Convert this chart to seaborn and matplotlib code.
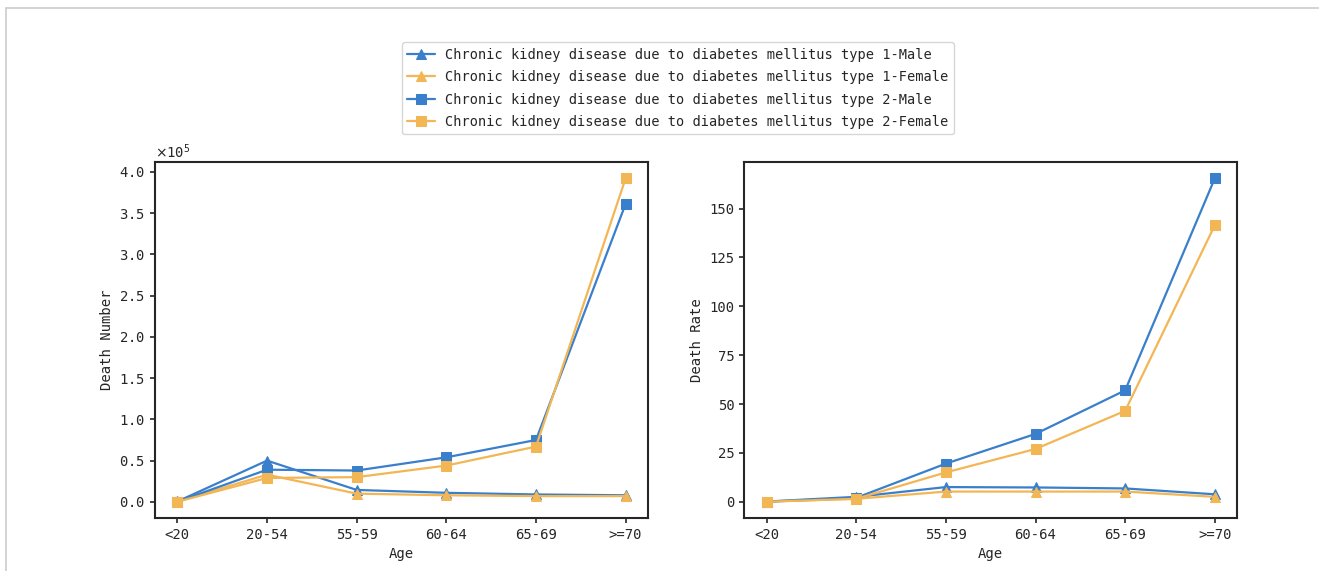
import matplotlib
matplotlib.use('Agg')
import matplotlib.pyplot as plt
import seaborn as sns
import pandas as pd
from matplotlib.lines import Line2D

sns.set_style('ticks')
plt.rcParams['font.family'] = ['DejaVu Sans Mono', 'Noto Sans CJK SC']
plt.rcParams['axes.unicode_minus'] = False

# Datos
edades = ['<20', '20-54', '55-59', '60-64', '65-69', '>=70']
series = [
    'Chronic kidney disease due to diabetes mellitus type 1-Male',
    'Chronic kidney disease due to diabetes mellitus type 1-Female',
    'Chronic kidney disease due to diabetes mellitus type 2-Male',
    'Chronic kidney disease due to diabetes mellitus type 2-Female',
]

# Death Number
num_t1_male = [500, 50000, 14500, 11000, 9000, 8000]
num_t1_female = [400, 33000, 10000, 8000, 7000, 7000]
num_t2_male = [300, 39000, 38000, 54000, 75000, 361000]
num_t2_female = [200, 29000, 30000, 44000, 67000, 392000]

# Death Rate
tasa_t1_male = [0.1, 2.5, 7.5, 7.3, 6.8, 3.8]
tasa_t1_female = [0.1, 1.5, 5.2, 5.2, 5.2, 2.5]
tasa_t2_male = [0.0, 2.0, 19.5, 34.7, 57.0, 165.5]
tasa_t2_female = [0.0, 1.5, 15.0, 27.0, 46.5, 141.5]

azul = '#3a7fcb'
naranja = '#f3b655'
colores = [azul, naranja, azul, naranja]
marcadores = ['^', '^', 's', 's']
fs = 10

fig, axes = plt.subplots(1, 2, figsize=(13.19, 5.71), dpi=100)
plt.subplots_adjust(left=0.1175, right=0.938, top=0.716, bottom=0.093, wspace=0.195)


def dibujar(ax, valores, ylabel):
    for nombre, vals, c, m in zip(series, valores, colores, marcadores):
        df = pd.DataFrame({'Age': edades, 'v': vals})
        sns.lineplot(data=df, x='Age', y='v', ax=ax, color=c, marker=m,
                     markersize=7.5, markeredgecolor=c, linewidth=1.6,
                     label=nombre, sort=False)
    ax.set_xlabel('Age', fontsize=fs)
    ax.set_ylabel(ylabel, fontsize=fs)
    ax.tick_params(labelsize=fs, width=1.2)
    for s in ax.spines.values():
        s.set_linewidth(1.5)
        s.set_visible(True)
    ax.get_legend().remove()


dibujar(axes[0], [num_t1_male, num_t1_female, num_t2_male, num_t2_female], 'Death Number')
dibujar(axes[1], [tasa_t1_male, tasa_t1_female, tasa_t2_male, tasa_t2_female], 'Death Rate')

axes[0].ticklabel_format(axis='y', style='sci', scilimits=(0, 0), useMathText=True)
axes[0].yaxis.get_offset_text().set_fontsize(fs)

handles, labels = axes[0].get_legend_handles_labels()
fig.legend(handles, labels, loc='upper center', bbox_to_anchor=(0.514, 0.938),
           fontsize=9.8, frameon=True, handlelength=2.0, labelspacing=0.62)

# Borde de la captura
fig.add_artist(Line2D([0.0047, 1.0], [0.986, 0.986], color='#cccccc', linewidth=1.2))
fig.add_artist(Line2D([0.0047, 0.0047], [0.0, 0.986], color='#cccccc', linewidth=1.2))

plt.savefig('out.png', dpi=100)
